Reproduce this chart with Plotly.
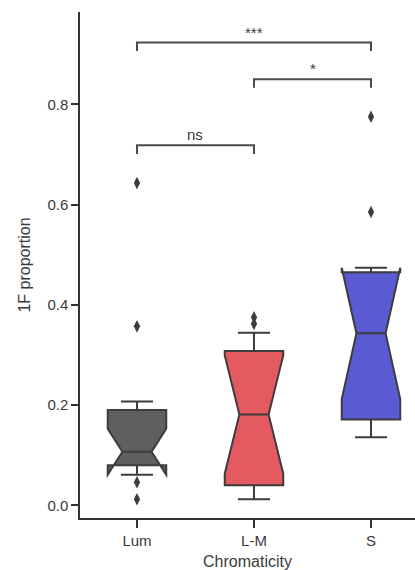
import plotly.graph_objects as go

# ---- data ----
categories = ["Lum", "L-M", "S"]
q1 = [0.080, 0.040, 0.171]
median = [0.107, 0.181, 0.343]
q3 = [0.190, 0.308, 0.465]
lowerfence = [0.065, 0.012, 0.136]
upperfence = [0.207, 0.344, 0.471]
notchspan = [0.046, 0.118, 0.131]
fill_colors = ["#5f5f5f", "#e45a5f", "#5a5ad2"]

outlier_cat = ["Lum", "Lum", "Lum", "Lum", "L-M", "L-M", "S", "S"]
outlier_val = [0.643, 0.357, 0.046, 0.012, 0.375, 0.362, 0.775, 0.585]

# significance brackets: (left category index, right category index, bar level, label)
bracket_left = [0, 1, 0]
bracket_right = [2, 2, 1]
bracket_level = [0.923, 0.850, 0.718]
bracket_label = ["***", "*", "ns"]
bracket_drop = 0.017

tick_vals = [0.0, 0.2, 0.4, 0.6, 0.8]

LINE = "#3d3d3d"
AX = "#333333"
FONT = "Liberation Sans, Arial, sans-serif"

fig = go.Figure()
for i, cat in enumerate(categories):
    fig.add_trace(go.Box(
        x=[cat], q1=[q1[i]], median=[median[i]], q3=[q3[i]],
        lowerfence=[lowerfence[i]], upperfence=[upperfence[i]],
        notchspan=[notchspan[i]], notched=True, notchwidth=0.25,
        width=0.5, whiskerwidth=0.55,
        fillcolor=fill_colors[i], line=dict(color=LINE, width=2),
        boxpoints=False, showlegend=False, hoverinfo="skip",
    ))

fig.add_trace(go.Scatter(
    x=outlier_cat, y=outlier_val, mode="markers",
    marker=dict(symbol="diamond-tall", size=9, color=LINE),
    showlegend=False, hoverinfo="skip",
))

for l, r, lev, lab in zip(bracket_left, bracket_right, bracket_level, bracket_label):
    fig.add_shape(type="path", xref="x", yref="y",
                  path=f"M {l},{lev - bracket_drop} L {l},{lev} L {r},{lev} L {r},{lev - bracket_drop}",
                  line=dict(color="#4a4a4a", width=2))
    fig.add_annotation(x=(l + r) / 2, y=lev, xref="x", yref="y", text=lab,
                       showarrow=False, yanchor="bottom", yshift=0,
                       font=dict(family=FONT, size=15, color="#3a3a3a"))

fig.update_layout(
    width=415, height=570,
    margin=dict(l=80, r=0, t=12, b=52),
    plot_bgcolor="white", paper_bgcolor="white",
    boxmode="overlay",
    font=dict(family=FONT, size=15, color="#3a3a3a"),
    xaxis=dict(
        type="category", categoryorder="array", categoryarray=categories,
        range=[-0.487, 2.376], showline=True, linecolor=AX, linewidth=1.5,
        ticks="outside", ticklen=8, tickwidth=1.5, tickcolor=AX,
        showgrid=False, zeroline=False,
        title=dict(text="Chromaticity", font=dict(size=16), standoff=8),
    ),
    yaxis=dict(
        range=[-0.0253, 0.984], showline=True, linecolor=AX, linewidth=1.5,
        ticks="outside", ticklen=7, tickwidth=1.5, tickcolor=AX,
        tickvals=tick_vals, tickformat=".1f",
        showgrid=False, zeroline=False,
        title=dict(text="1F proportion", font=dict(size=16), standoff=13),
    ),
)

fig.write_html("out.html")
